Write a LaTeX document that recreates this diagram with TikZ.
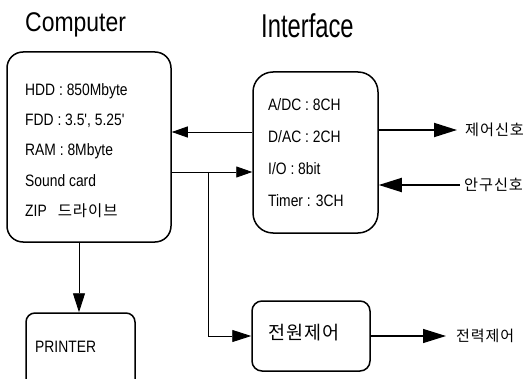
\documentclass[tikz,border=0pt]{standalone}
\usepackage{fontspec}
\setmainfont{Liberation Sans}
\newfontfamily\bodyfont[FakeStretch=0.84]{Liberation Sans}
\newfontfamily\kr[LetterSpace=6]{Noto Sans CJK KR}
\usetikzlibrary{arrows.meta}
\begin{document}
\begin{tikzpicture}[x=1pt,y=-1pt,
  box/.style={draw, line width=1.5pt, inner sep=0pt},
  lbl/.style={font=\bodyfont\fontsize{16.5}{18}\selectfont, anchor=west, inner sep=0pt},
  krl/.style={font=\kr\fontsize{15.2}{17}\selectfont, anchor=west, inner sep=0pt},
  arr/.style={line width=0.9pt, -{Triangle[length=16pt,width=11pt]}},
  midarr/.style={line width=0.9pt, -{Triangle[length=19pt,width=12pt]}},
  bigarr/.style={line width=1.8pt, -{Triangle[length=23pt,width=14pt]}}]
\useasboundingbox[fill=white] (0,0) rectangle (526,379);

% titles
\node[font={\fontspec{Liberation Sans}[FakeStretch=0.85]\fontsize{27}{30}\selectfont}, anchor=base west, inner sep=0pt] (tc) at (25,32) {Computer};
\node[font={\fontspec{Liberation Sans}[FakeStretch=0.72]\fontsize{33}{36}\selectfont}, anchor=base west, inner sep=0pt] (ti) at (261,38) {Interface};

% boxes
\node[box, rounded corners=16pt, minimum width=164pt, minimum height=190pt] (comp) at (89,147) {};
\node[box, rounded corners=20pt, minimum width=125pt, minimum height=161pt] (ifc) at (315.5,152.5) {};
\node[box, rounded corners=10pt, minimum width=118pt, minimum height=70pt] (pwr) at (311,336) {};
\begin{scope}
\clip (0,0) rectangle (526,379);
\node[box, rounded corners=9pt, minimum width=109pt, minimum height=90pt] (prn) at (80.5,358) {};
\end{scope}

% computer contents
\node[lbl] (c1) at (25,91) {HDD : 850Mbyte};
\node[lbl] (c2) at (25,121) {FDD : 3.5', 5.25'};
\node[lbl] (c3) at (25,151) {RAM : 8Mbyte};
\node[lbl] (c4) at (25,181) {Sound card};
\node[lbl] (c5) at (25,211) {ZIP\hspace{11pt}{\kr\fontsize{15.5}{17}\selectfont 드라이브}};

% interface contents
\node[lbl] (i1) at (268,105) {A/DC : 8CH};
\node[lbl] (i2) at (268,137) {D/AC : 2CH};
\node[lbl] (i3) at (268,169) {I/O : 8bit};
\node[lbl] (i4) at (268,201) {Timer : 3CH};

% printer and power texts
\node[lbl] (pt) at (35,347) {PRINTER};
\node[font=\kr\fontsize{18.5}{20}\selectfont, inner sep=0pt] (pw) at (304,333) {전원제어};

% outside labels
\node[krl] (o1) at (465,130) {제어신호};
\node[krl] (o2) at (464,185) {안구신호};
\node[krl, font=\kr\fontsize{15}{17}\selectfont] (o3) at (456,336) {전력제어};

% connectors
\coordinate (ya) at (0,132);
\coordinate (yb) at (0,172);
\coordinate (br) at (208,172);
\draw[arr] (ifc.west |- ya) -- (comp.east |- ya);
\draw[arr] (comp.east |- yb) -- (ifc.west |- yb);
\draw[midarr] (br) |- (pwr.west);
\coordinate (px) at (79,0);
\draw[midarr] (comp.south -| px) -- (prn.north -| px);
\draw[bigarr, shorten >=8pt] (ifc.east |- o1.west) -- (o1.west);
\draw[bigarr] ([xshift=-4pt]o2.west) -- (ifc.east |- o2.west);
\draw[bigarr, line width=1.3pt, shorten >=10pt] (pwr.east) -- (pwr.east -| o3.west);
\end{tikzpicture}
\end{document}
